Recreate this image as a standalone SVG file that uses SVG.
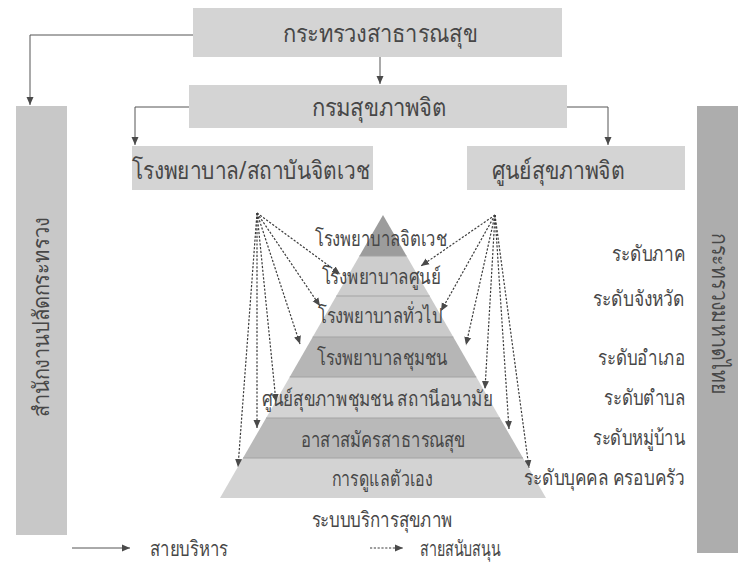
<svg xmlns="http://www.w3.org/2000/svg" width="738" height="562" viewBox="0 0 738 562">
<defs>
<style>
text{font-family:"Noto Sans","DejaVu Sans",sans-serif;fill:#474747;}
.box{fill:#d4d4d4;}
.t24{font-size:25px;}
.t22{font-size:22px;}
.t20{font-size:21px;}
.c{text-anchor:middle;}
.r{text-anchor:end;}
.solid{fill:none;stroke:#555;stroke-width:1;}
.dot{fill:none;stroke:#3c3c3c;stroke-width:1.2;stroke-dasharray:2.2 1.6;}
.sep{stroke:#a3a3a3;stroke-width:1;}
</style>
<marker id="ah" markerWidth="9" markerHeight="9" refX="8" refY="4.5" orient="auto" markerUnits="userSpaceOnUse">
<path d="M0,1 L8,4.5 L0,8 Z" fill="#4a4a4a"/>
</marker>
</defs>

<g id="n-moph"><rect class="box" x="193" y="8" width="369" height="49"/><text class="t24 c" x="380" y="42" textLength="195" lengthAdjust="spacingAndGlyphs">กระทรวงสาธารณสุข</text></g>
<g id="n-dmh"><rect class="box" x="189" y="85" width="378" height="43"/><text class="t24 c" x="379" y="116" textLength="135" lengthAdjust="spacingAndGlyphs">กรมสุขภาพจิต</text></g>
<g id="n-hosp"><rect class="box" x="132" y="146" width="241" height="44"/><text class="t24 c" x="251" y="179" textLength="238" lengthAdjust="spacingAndGlyphs">โรงพยาบาล/สถาบันจิตเวช</text></g>
<g id="n-center"><rect class="box" x="467" y="146" width="218" height="44"/><text class="t24 c" x="558" y="179" textLength="133" lengthAdjust="spacingAndGlyphs">ศูนย์สุขภาพจิต</text></g>
<g id="n-ops"><rect x="16" y="106" width="51" height="429" fill="#c8c8c8"/><text class="t22 c" transform="translate(49,317) rotate(-90)" x="0" y="0" textLength="200" lengthAdjust="spacingAndGlyphs">สำนักงานปลัดกระทรวง</text></g>
<g id="n-moi"><rect x="697" y="106" width="41" height="447" fill="#adadad"/><text class="t22 c" transform="translate(712,314) rotate(90)" x="0" y="0" textLength="162" lengthAdjust="spacingAndGlyphs">กระทรวงมหาดไทย</text></g>

<g id="pyramid">
<polygon points="383,215 406.6,256 359.4,256" fill="#9c9c9c"/>
<polygon points="359.4,256 406.6,256 429.7,296 336.3,296" fill="#cdcdcd"/>
<polygon points="336.3,296 429.7,296 453.3,337 312.7,337" fill="#cacaca"/>
<polygon points="312.7,337 453.3,337 476.3,377 289.7,377" fill="#b6b6b6"/>
<polygon points="289.7,377 476.3,377 499.9,418 266.1,418" fill="#d3d3d3"/>
<polygon points="266.1,418 499.9,418 523,458 243,458" fill="#b9b9b9"/>
<polygon points="243,458 523,458 546,498 220,498" fill="#d3d3d3"/>
<line class="sep" x1="359.4" y1="256" x2="406.6" y2="256"/>
<line class="sep" x1="336.3" y1="296" x2="429.7" y2="296"/>
<line class="sep" x1="312.7" y1="337" x2="453.3" y2="337"/>
<line class="sep" x1="289.7" y1="377" x2="476.3" y2="377"/>
<line class="sep" x1="266.1" y1="418" x2="499.9" y2="418"/>
<line class="sep" x1="243" y1="458" x2="523" y2="458"/>
</g>

<g id="pyr-labels">
<text class="t20 c" x="381" y="246" textLength="132" lengthAdjust="spacingAndGlyphs">โรงพยาบาลจิตเวช</text>
<text class="t20 c" x="381" y="284" textLength="119" lengthAdjust="spacingAndGlyphs">โรงพยาบาลศูนย์</text>
<text class="t20 c" x="380" y="323" textLength="124" lengthAdjust="spacingAndGlyphs">โรงพยาบาลทั่วไป</text>
<text class="t20 c" x="382" y="365" textLength="130" lengthAdjust="spacingAndGlyphs">โรงพยาบาลชุมชน</text>
<text class="t20 c" x="377" y="406" textLength="231" lengthAdjust="spacingAndGlyphs">ศูนย์สุขภาพชุมชน สถานีอนามัย</text>
<text class="t20 c" x="383" y="447" textLength="165" lengthAdjust="spacingAndGlyphs">อาสาสมัครสาธารณสุข</text>
<text class="t20 c" x="382" y="486" textLength="101" lengthAdjust="spacingAndGlyphs">การดูแลตัวเอง</text>
<text class="t20 c" x="382" y="527" textLength="141" lengthAdjust="spacingAndGlyphs">ระบบบริการสุขภาพ</text>
</g>

<g id="levels">
<text class="t20 r" x="685" y="261" textLength="73" lengthAdjust="spacingAndGlyphs">ระดับภาค</text>
<text class="t20 r" x="685" y="306" textLength="92" lengthAdjust="spacingAndGlyphs">ระดับจังหวัด</text>
<text class="t20 r" x="685" y="365" textLength="87" lengthAdjust="spacingAndGlyphs">ระดับอำเภอ</text>
<text class="t20 r" x="685" y="405" textLength="81" lengthAdjust="spacingAndGlyphs">ระดับตำบล</text>
<text class="t20 r" x="685" y="445" textLength="92" lengthAdjust="spacingAndGlyphs">ระดับหมู่บ้าน</text>
<text class="t20 r" x="685" y="485" textLength="161" lengthAdjust="spacingAndGlyphs">ระดับบุคคล ครอบครัว</text>
</g>

<g id="connectors">
<path class="solid" d="M380,57 V84" marker-end="url(#ah)"/>
<path class="solid" d="M193,35 H30 V105" marker-end="url(#ah)"/>
<path class="solid" d="M189,107 H135 V145" marker-end="url(#ah)"/>
<path class="solid" d="M567,107 H608 V145" marker-end="url(#ah)"/>
<path class="dot" d="M257,213 L340,274" marker-end="url(#ah)"/>
<path class="dot" d="M257,213 L320,306" marker-end="url(#ah)"/>
<path class="dot" d="M257,213 L300,344" marker-end="url(#ah)"/>
<path class="dot" d="M257,213 L276,402" marker-end="url(#ah)"/>
<path class="dot" d="M257,213 L257,428" marker-end="url(#ah)"/>
<path class="dot" d="M257,213 L238,467" marker-end="url(#ah)"/>
<path class="dot" d="M495,215 L421,266" marker-end="url(#ah)"/>
<path class="dot" d="M495,215 L441,311" marker-end="url(#ah)"/>
<path class="dot" d="M495,215 L466,345" marker-end="url(#ah)"/>
<path class="dot" d="M495,215 L485,389" marker-end="url(#ah)"/>
<path class="dot" d="M495,215 L509,429" marker-end="url(#ah)"/>
<path class="dot" d="M495,215 L529,468" marker-end="url(#ah)"/>
</g>

<g id="legend">
<path class="solid" d="M72,548 H130" marker-end="url(#ah)"/>
<text class="t20" x="150" y="556" textLength="78" lengthAdjust="spacingAndGlyphs">สายบริหาร</text>
<path class="dot" d="M370,548 H403" marker-end="url(#ah)"/>
<text class="t20" x="420" y="556" textLength="80" lengthAdjust="spacingAndGlyphs">สายสนับสนุน</text>
</g>
</svg>
